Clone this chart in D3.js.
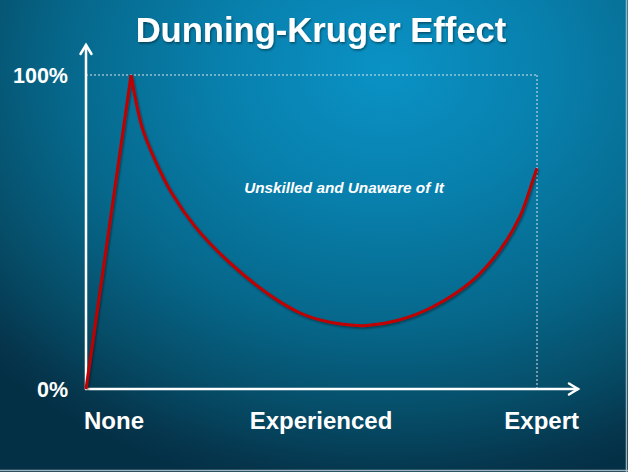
<!DOCTYPE html>
<html><head><meta charset="utf-8">
<script src="https://cdn.jsdelivr.net/npm/d3@7"></script>
<style>html,body{margin:0;padding:0;background:#042f44;}svg{display:block;}</style>
</head><body>
<script>
// ---- data ----
const title = "Dunning-Kruger Effect";
const annotation = "Unskilled and Unaware of It";
const xTickLabels = ["None", "Experienced", "Expert"];
const yTickValues = [0, 100];
const yTickLabels = ["0%", "100%"];
// experience (0 = none, 100 = expert) vs confidence (%)
const riseExperience = [0, 10];
const riseConfidence = [0, 100];
const fallExperience = [10, 12.4, 15.3, 19.0, 24.2, 31.2, 40.1, 47.5, 51.9, 57, 62.2, 69, 76.9, 85.8, 91.8, 96.2, 99.1, 100];
const fallConfidence = [100, 83.5, 72.9, 62.4, 51.7, 41.1, 30.6, 24.2, 22.0, 20.6, 20.2, 21.8, 26.2, 34.7, 44.3, 54.9, 66.6, 70.3];

const W = 628, H = 472;
const FONT = "Liberation Sans, Arial, sans-serif";
const svg = d3.select("body").append("svg").attr("width", W).attr("height", H);
const defs = svg.append("defs");
const grad = defs.append("radialGradient").attr("id", "bg")
  .attr("gradientUnits", "userSpaceOnUse")
  .attr("cx", 0).attr("cy", 0).attr("r", 1)
  .attr("gradientTransform", "translate(385,70) scale(540,430)");
[[0, "#0a92c5"], [0.3, "#0880ad"], [0.6, "#06678a"], [0.8, "#064d68"], [0.95, "#05354c"], [1, "#043046"]]
  .forEach(([o, c]) => grad.append("stop").attr("offset", o).attr("stop-color", c));
const sh = defs.append("filter").attr("id", "sh").attr("x", "-10%").attr("y", "-10%").attr("width", "120%").attr("height", "120%");
sh.append("feDropShadow").attr("dx", 1).attr("dy", 1.5).attr("stdDeviation", 1).attr("flood-color", "#000").attr("flood-opacity", 0.45);

svg.append("rect").attr("width", W).attr("height", H).attr("fill", "url(#bg)");
// thin light border right/bottom
svg.append("line").attr("x1", W - 1.5).attr("x2", W - 1.5).attr("y1", 0).attr("y2", H).attr("stroke", "#9fb3bd").attr("stroke-width", 1.5);
svg.append("line").attr("x1", 0).attr("x2", W).attr("y1", H - 1.5).attr("y2", H - 1.5).attr("stroke", "#9fb3bd").attr("stroke-width", 1.5);

const x0 = 86, x1 = 537, yBase = 389, yTop = 75;
const x = d3.scaleLinear().domain([0, 100]).range([x0, x1]);
const y = d3.scaleLinear().domain([0, 100]).range([yBase, yTop]);

// title
svg.append("text").attr("x", 321).attr("y", 42).attr("text-anchor", "middle")
  .attr("font-family", FONT).attr("font-weight", "bold")
  .attr("font-size", 34.6).attr("fill", "#fff").attr("filter", "url(#sh)").text(title);

// dashed guides
svg.append("line").attr("x1", x(0)).attr("x2", x(100)).attr("y1", y(100)).attr("y2", y(100))
  .attr("stroke", "#dbe5ea").attr("stroke-width", 1).attr("stroke-dasharray", "2,2");
svg.append("line").attr("x1", x(100)).attr("x2", x(100)).attr("y1", y(100)).attr("y2", y(0))
  .attr("stroke", "#dbe5ea").attr("stroke-width", 1).attr("stroke-dasharray", "2,2");

// axes with arrows
const axG = svg.append("g").attr("stroke", "#fff").attr("stroke-width", 2.5).attr("fill", "none").attr("stroke-linecap", "round");
axG.append("line").attr("x1", x0).attr("x2", x0).attr("y1", yBase).attr("y2", 45);
axG.append("path").attr("d", `M${x0 - 5.5},${54} L${x0},${45} L${x0 + 5.5},${54}`);
axG.append("line").attr("x1", x0).attr("x2", 578).attr("y1", yBase).attr("y2", yBase);
axG.append("path").attr("d", `M${569},${yBase - 5.5} L${578},${yBase} L${569},${yBase + 5.5}`);

// y tick labels
svg.selectAll("text.ytick").data(yTickValues).join("text").attr("class", "ytick")
  .attr("x", 68).attr("y", d => y(d) + 8).attr("text-anchor", "end")
  .attr("font-family", FONT).attr("font-weight", "bold")
  .attr("font-size", 21.5).attr("fill", "#fff").text((d, i) => yTickLabels[i]);

// x tick labels
const xl = d3.scalePoint().domain(xTickLabels).range([84, 579]);
const anchors = ["start", "middle", "end"];
svg.selectAll("text.xtick").data(xTickLabels).join("text").attr("class", "xtick")
  .attr("x", (d, i) => i === 1 ? 321 : xl(d)).attr("y", 429)
  .attr("text-anchor", (d, i) => anchors[i])
  .attr("font-family", FONT).attr("font-weight", "bold")
  .attr("font-size", 24).attr("fill", "#fff").text(d => d);

// annotation
svg.append("text").attr("x", 344).attr("y", 193).attr("text-anchor", "middle")
  .attr("font-family", FONT).attr("font-weight", "bold").attr("font-style", "italic")
  .attr("font-size", 15.3).attr("fill", "#fff").text(annotation);

// curve
const rise = riseExperience.map((v, i) => [v, riseConfidence[i]]);
const fall = fallExperience.map((v, i) => [v, fallConfidence[i]]);
const lineLin = d3.line().x(d => x(d[0])).y(d => y(d[1]));
const lineCurve = d3.line().x(d => x(d[0])).y(d => y(d[1])).curve(d3.curveCatmullRom.alpha(0.5));
const cg = svg.append("g").attr("filter", "url(#sh)");
cg.append("path").attr("d", lineLin(rise)).attr("fill", "none").attr("stroke", "#c00000").attr("stroke-width", 3).attr("stroke-linejoin", "miter");
cg.append("path").attr("d", lineCurve(fall)).attr("fill", "none").attr("stroke", "#c00000").attr("stroke-width", 3);
</script>
</body></html>
